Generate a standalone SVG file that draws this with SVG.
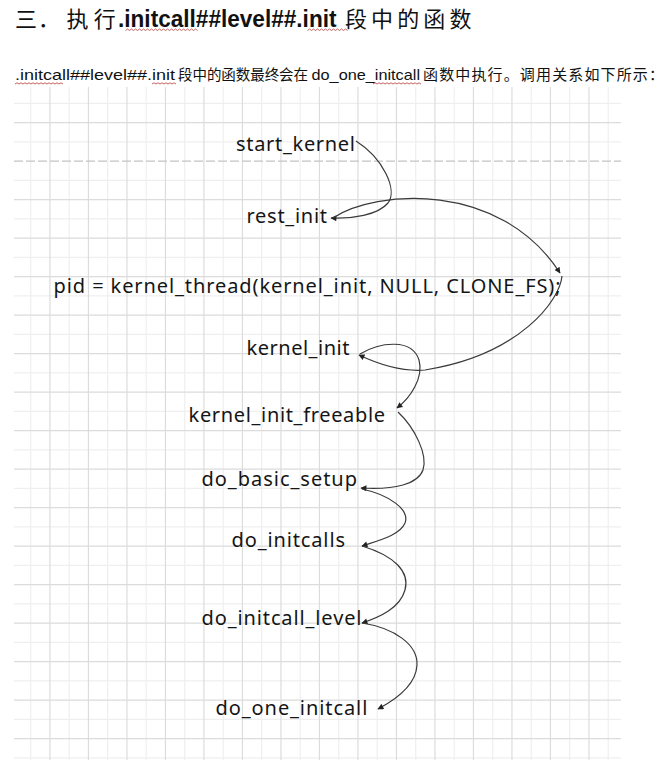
<svg xmlns="http://www.w3.org/2000/svg" width="672" height="765" viewBox="0 0 672 765">
<style>
.gl{stroke:#efefef;stroke-width:1.2;fill:none}
.gd{stroke:#dcdcdc;stroke-width:1.2;fill:none}
.gdash{stroke:#c4c4c4;stroke-width:1.3;fill:none;stroke-dasharray:9 3}
.lbl{font-family:"Noto Sans","Liberation Sans",sans-serif;font-size:20px;fill:#151515}
.cn{font-family:"Noto Sans CJK SC","Noto Sans",sans-serif;fill:#111}
.lat{font-family:"Liberation Sans","Noto Sans",sans-serif;fill:#111}
.wave{stroke:#c0504d;stroke-width:0.9;fill:none}
.conn{stroke:#3a3a3a;stroke-width:1.2;fill:none;marker-end:url(#ah)}
</style>
<defs>
<marker id="ah" viewBox="0 0 10 10" refX="9" refY="5" markerWidth="7" markerHeight="6" markerUnits="userSpaceOnUse" orient="auto">
<path d="M0,0 L10,5 L0,10 z" fill="#222"/>
</marker>
</defs>
<rect width="672" height="765" fill="#fff"/>
<g id="grid">
<path class="gl" d="M14,103.3H621M14,141.8H621M14,180.3H621M14,218.8H621M14,257.3H621M14,295.8H621M14,334.3H621M14,372.8H621M14,411.3H621M14,449.8H621M14,488.3H621M14,526.8H621M14,565.3H621M14,603.8H621M14,642.3H621M14,680.8H621M14,719.3H621M14,757.8H621"/>
<path class="gl" d="M30.7,87V760M69.2,87V760M107.7,87V760M146.2,87V760M184.7,87V760M223.2,87V760M261.7,87V760M300.2,87V760M338.7,87V760M377.2,87V760M415.7,87V760M454.2,87V760M492.7,87V760M531.2,87V760M569.7,87V760M608.2,87V760"/>
<path class="gd" d="M14,122.55H621M14,199.55H621M14,238.05H621M14,276.55H621M14,315.05H621M14,353.55H621M14,392.05H621M14,430.55H621M14,469.05H621M14,507.55H621M14,546.05H621M14,584.55H621M14,623.05H621M14,661.55H621M14,700.05H621M14,738.55H621"/>
<path class="gd" d="M49.95,87V760M88.45,87V760M126.95,87V760M165.45,87V760M203.95,87V760M242.45,87V760M280.95,87V760M319.45,87V760M357.95,87V760M396.45,87V760M434.95,87V760M473.45,87V760M511.95,87V760M550.45,87V760M588.95,87V760"/>
<path class="gdash" d="M14,161.05H621"/>
</g>
<g id="heading">
<text class="cn" x="15" y="27" font-size="22" textLength="45">三．</text>
<text class="cn" x="66.4" y="27" font-size="22" textLength="49.3">执行</text>
<text class="lat" x="118" y="26.5" font-size="24" font-weight="bold" textLength="218.5" lengthAdjust="spacingAndGlyphs">.initcall##level##.init</text>
<text class="cn" x="345" y="27" font-size="22" textLength="126.5">段中的函数</text>
<path class="wave" d="M125.5,30.5l2,-1.5l2,1.5l2,-1.5l2,1.5l2,-1.5l2,1.5l2,-1.5l2,1.5l2,-1.5l2,1.5l2,-1.5l2,1.5l2,-1.5l2,1.5l2,-1.5l2,1.5l2,-1.5l2,1.5l2,-1.5l2,1.5l2,-1.5l2,1.5l2,-1.5l2,1.5l2,-1.5l2,1.5l2,-1.5l2,1.5l2,-1.5l2,1.5l2,-1.5l2,1.5l2,-1.5l2,1.5l2,-1.5l2,1.5"/>
<path class="wave" d="M307.5,30.5l2,-1.5l2,1.5l2,-1.5l2,1.5l2,-1.5l2,1.5l2,-1.5l2,1.5l2,-1.5l2,1.5l2,-1.5l2,1.5l2,-1.5l2,1.5l2,-1.5l2,1.5l2,-1.5l2,1.5l2,-1.5l2,1.5"/>
</g>
<g id="intro">
<text class="lat" x="15" y="80" font-size="15" textLength="160" lengthAdjust="spacingAndGlyphs">.initcall##level##.init</text>
<text class="cn" x="178" y="80" font-size="14.5" textLength="130">段中的函数最终会在</text>
<text class="lat" x="311.5" y="80" font-size="15" textLength="108.5" lengthAdjust="spacingAndGlyphs">do_one_initcall</text>
<text class="cn" x="423" y="80" font-size="15" textLength="241">函数中执行。调用关系如下所示：</text>
<path class="wave" d="M15,84l2,-1.2l2,1.2l2,-1.2l2,1.2l2,-1.2l2,1.2l2,-1.2l2,1.2l2,-1.2l2,1.2l2,-1.2l2,1.2l2,-1.2l2,1.2l2,-1.2l2,1.2l2,-1.2l2,1.2l2,-1.2l2,1.2l2,-1.2l2,1.2l2,-1.2l2,1.2"/>
<path class="wave" d="M152,84l2,-1.2l2,1.2l2,-1.2l2,1.2l2,-1.2l2,1.2l2,-1.2l2,1.2l2,-1.2l2,1.2l2,-1.2l2,1.2"/>
<path class="wave" d="M373,84l2,-1.2l2,1.2l2,-1.2l2,1.2l2,-1.2l2,1.2l2,-1.2l2,1.2l2,-1.2l2,1.2l2,-1.2l2,1.2l2,-1.2l2,1.2l2,-1.2l2,1.2l2,-1.2l2,1.2l2,-1.2l2,1.2l2,-1.2l2,1.2l2,-1.2l2,1.2"/>
</g>
<g id="connectors">
<path class="conn" d="M356,141 C383,158 398,190 388,203 C378,215 352,219 331,218"/>
<path class="conn" d="M333,218 C375,190 500,180 560,273"/>
<path class="conn" d="M562,276 C560,300 520,355 425,370 C400,372 378,364 359,355"/>
<path class="conn" d="M360,354 C380,342 412,338 419,360 C424,378 410,398 397,408"/>
<path class="conn" d="M398,412 C415,428 428,455 423,470 C418,484 395,490 361,488"/>
<path class="conn" d="M362,489 C390,495 410,510 405,523 C400,535 380,540 362,546"/>
<path class="conn" d="M362,546 C395,556 410,572 405,590 C400,608 380,617 362,623"/>
<path class="conn" d="M362,623 C395,628 418,645 417,665 C416,685 395,700 378,709"/>
</g>
<g id="start_kernel"><text class="lbl" x="236" y="151" textLength="119">start_kernel</text></g>
<g id="rest_init"><text class="lbl" x="246.5" y="223" textLength="80.5">rest_init</text></g>
<g id="kernel_thread"><text class="lbl" x="53.6" y="292.5" textLength="507">pid = kernel_thread(kernel_init, NULL, CLONE_FS);</text></g>
<g id="kernel_init"><text class="lbl" x="246.5" y="355" textLength="103">kernel_init</text></g>
<g id="kernel_init_freeable"><text class="lbl" x="188.6" y="421.5" textLength="196.4">kernel_init_freeable</text></g>
<g id="do_basic_setup"><text class="lbl" x="201.5" y="486" textLength="155.5">do_basic_setup</text></g>
<g id="do_initcalls"><text class="lbl" x="231.5" y="547" textLength="113.5">do_initcalls</text></g>
<g id="do_initcall_level"><text class="lbl" x="201.5" y="625" textLength="160">do_initcall_level</text></g>
<g id="do_one_initcall"><text class="lbl" x="215.6" y="715" textLength="151.7">do_one_initcall</text></g>
</svg>
